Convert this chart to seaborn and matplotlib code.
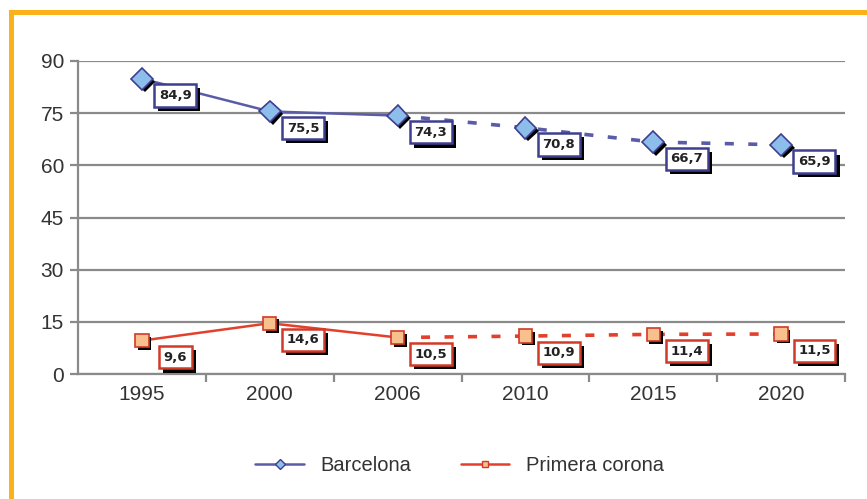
import pandas as pd
import matplotlib.pyplot as plt
import matplotlib.patheffects as pe
from matplotlib.lines import Line2D
from matplotlib.patches import Rectangle
import seaborn as sns

# Data
years = ["1995", "2000", "2006", "2010", "2015", "2020"]
barcelona = [84.9, 75.5, 74.3, 70.8, 66.7, 65.9]
primera_corona = [9.6, 14.6, 10.5, 10.9, 11.4, 11.5]
label_bcn = ["84,9", "75,5", "74,3", "70,8", "66,7", "65,9"]
label_pc = ["9,6", "14,6", "10,5", "10,9", "11,4", "11,5"]
n_observed = 3  # 1995-2006 solid, 2006-2020 dashed (projection)

sns.set_style("white")
plt.rcParams["font.family"] = ["Liberation Sans", "DejaVu Sans"]

df = pd.DataFrame({"pos": range(len(years)), "year": years,
                   "Barcelona": barcelona, "Primera corona": primera_corona})

fig = plt.figure(figsize=(8.67, 4.99), dpi=100)
ax = fig.add_axes([78 / 867, 125 / 499, 767 / 867, 313 / 499])

series = [
    ("Barcelona", "#5A5CA8", "D", "#8DBDEB", "#3F3F8F", label_bcn),
    ("Primera corona", "#E2402C", "s", "#F8C08C", "#D23A28", label_pc),
]

for name, col, mk, face, edge, labels in series:
    solid = df.iloc[:n_observed]
    dashed = df.iloc[n_observed - 1:]
    sns.lineplot(data=solid, x="pos", y=name, ax=ax, color=col, lw=1.8)
    sns.lineplot(data=dashed, x="pos", y=name, ax=ax, color=col, lw=2.6,
                 linestyle=(0, (2.5, 4)))
    ax.plot(df["pos"], df[name], linestyle="none", marker=mk, ms=11 if mk == "D" else 9.5,
            mfc=face, mec=edge, mew=1.2, zorder=5,
            path_effects=[pe.SimplePatchShadow(offset=(2, -2), shadow_rgbFace="black", alpha=1),
                          pe.Normal()])
    for x, y, t in zip(df["pos"], df[name], labels):
        txt = ax.annotate(t, (x, y), xytext=(24, -12), textcoords="offset points",
                          ha="center", va="center", fontsize=9.5, fontweight="bold",
                          family="DejaVu Sans", color="#222222", zorder=7,
                          bbox=dict(boxstyle="square,pad=0.35", fc="white", ec=edge, lw=1.8))
        txt.get_bbox_patch().set_path_effects(
            [pe.SimplePatchShadow(offset=(3, -3), shadow_rgbFace="black", alpha=1), pe.Normal()])

ax.set_xlim(-0.5, len(years) - 0.5)
ax.set_ylim(0, 90)
ax.set_yticks(range(0, 91, 15))
ax.set_xticks(range(len(years)))
ax.set_xticklabels(years)
ax.set_xticks([i + 0.5 for i in range(len(years))], minor=True)
ax.set_xlabel("")
ax.set_ylabel("")
ax.grid(axis="y", color="#8a8a8a", lw=1.6)
ax.set_axisbelow(True)
for s in ["top", "right"]:
    ax.spines[s].set_visible(False)
for s in ["left", "bottom"]:
    ax.spines[s].set_color("#8a8a8a")
    ax.spines[s].set_linewidth(1.6)
ax.tick_params(axis="y", length=6, width=1.6, color="#8a8a8a", labelsize=15,
               labelcolor="#333333", pad=4, left=True)
ax.tick_params(axis="x", which="major", length=0, labelsize=15, labelcolor="#333333", pad=8)
ax.tick_params(axis="x", which="minor", length=6, width=1.6, color="#8a8a8a", bottom=True)

handles = [Line2D([], [], color=c, lw=1.8, marker=m, ms=5, mfc=f, mec=e)
           for _, c, m, f, e, _ in series]
fig.legend(handles, [s[0] for s in series], loc="center", bbox_to_anchor=(0.53, 0.068),
           ncol=2, frameon=False, fontsize=14.5, handlelength=2.4, columnspacing=2.5,
           labelcolor="#333333")

# orange frame on top and left
fig.add_artist(Rectangle((9 / 867, 0), 5 / 867, 489 / 499, transform=fig.transFigure,
                         color="#FBB11A", lw=0))
fig.add_artist(Rectangle((9 / 867, 484 / 499), 858 / 867, 5 / 499, transform=fig.transFigure,
                         color="#FBB11A", lw=0))

fig.savefig("out.png", dpi=100)
